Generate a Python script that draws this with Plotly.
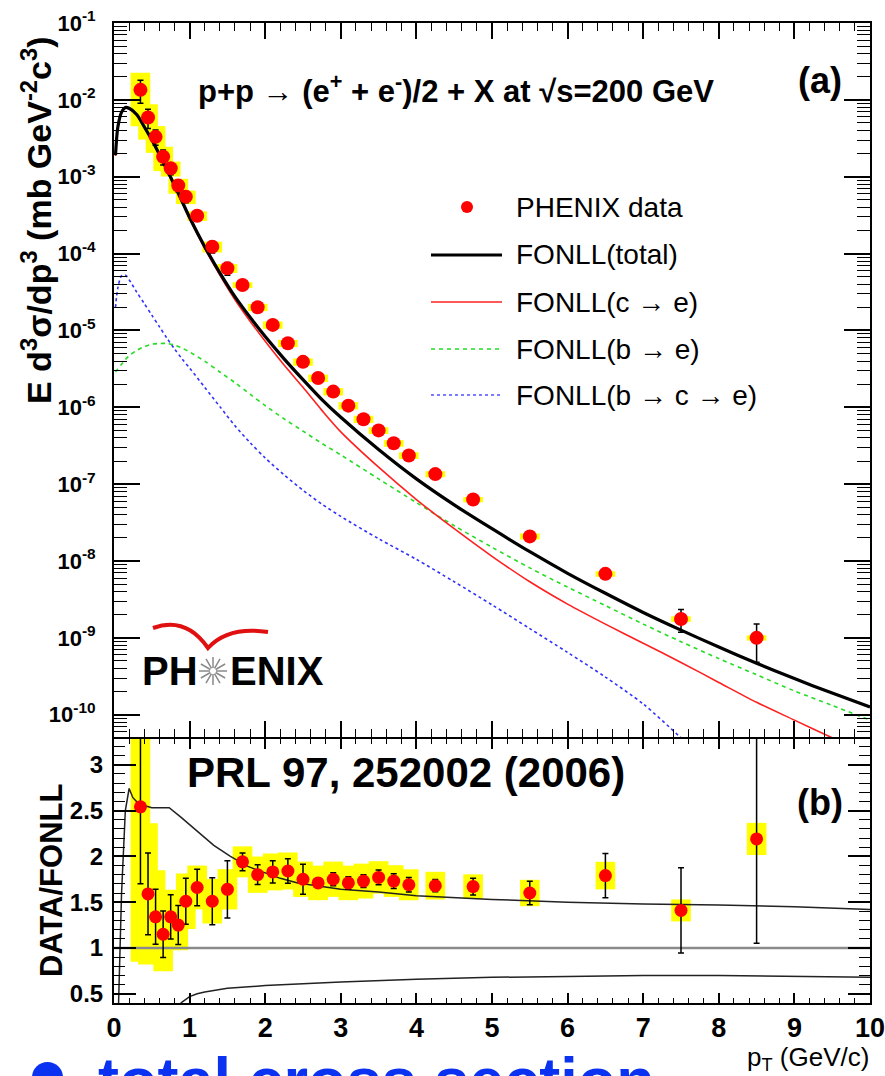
import math
import numpy as np
import plotly.graph_objects as go

# ---------------- data ----------------
pt = [0.35, 0.45, 0.55, 0.65, 0.75, 0.85, 0.95, 1.1, 1.3, 1.5, 1.7, 1.9, 2.1, 2.3,
      2.5, 2.7, 2.9, 3.1, 3.3, 3.5, 3.7, 3.9, 4.25, 4.75, 5.5, 6.5, 7.5, 8.5]
cross = [1.35e-2, 5.9e-3, 3.3e-3, 1.82e-3, 1.29e-3, 7.7e-4, 5.5e-4, 3.1e-4, 1.23e-4, 6.45e-5,
         3.9e-5, 2.0e-5, 1.18e-5, 6.8e-6, 3.9e-6, 2.4e-6, 1.6e-6, 1.05e-6, 7.0e-7, 5.0e-7,
         3.4e-7, 2.36e-7, 1.35e-7, 6.3e-8, 2.09e-8, 6.8e-9, 1.76e-9, 1.0e-9]
ratio = [2.54, 1.59, 1.34, 1.15, 1.34, 1.25, 1.51, 1.66, 1.51, 1.64, 1.94, 1.80, 1.83, 1.84,
         1.75, 1.71, 1.75, 1.71, 1.73, 1.77, 1.73, 1.69, 1.68, 1.67, 1.60, 1.79, 1.41, 2.19]
stat_rel = [0.33, 0.28, 0.224, 0.22, 0.18, 0.17, 0.167, 0.12, 0.17, 0.19, 0.05, 0.06, 0.066, 0.073,
            0.094, 0.03, 0.04, 0.04, 0.04, 0.045, 0.046, 0.047, 0.04, 0.055, 0.08, 0.135, 0.33, 0.52]
sys_rel = [0.665, 0.485, 0.38, 0.35, 0.22, 0.22, 0.2, 0.144, 0.16, 0.134, 0.087, 0.11, 0.11, 0.11,
           0.11, 0.11, 0.11, 0.11, 0.11, 0.1, 0.1, 0.1, 0.09, 0.08, 0.09, 0.084, 0.085, 0.08]

pt_fonll = [0.02, 0.05, 0.1, 0.15, 0.2, 0.3, 0.4, 0.5, 0.6, 0.7, 0.8, 0.9, 1.0, 1.2, 1.4, 1.6,
            1.8, 2.0, 2.25, 2.5, 2.75, 3.0, 3.5, 4.0, 4.5, 5.0, 5.5, 6.0, 6.5, 7.0, 7.5, 8.0,
            8.5, 9.0, 9.5, 10.0]
fonll_total = [1.91e-3, 4.37e-3, 6.92e-3, 7.94e-3, 7.76e-3, 6.46e-3, 4.47e-3, 3.02e-3, 1.95e-3,
               1.23e-3, 7.76e-4, 4.79e-4, 2.95e-4, 1.23e-4, 5.62e-5, 2.75e-5, 1.48e-5, 8.32e-6,
               4.27e-6, 2.29e-6, 1.26e-6, 7.41e-7, 2.82e-7, 1.17e-7, 5.37e-8, 2.63e-8, 1.32e-8,
               6.92e-9, 3.80e-9, 2.14e-9, 1.26e-9, 7.59e-10, 4.68e-10, 2.95e-10, 1.91e-10, 1.26e-10]
fonll_c = [1.86e-3, 4.27e-3, 6.76e-3, 7.76e-3, 7.59e-3, 6.31e-3, 4.37e-3, 2.95e-3, 1.91e-3,
           1.20e-3, 7.59e-4, 4.68e-4, 2.82e-4, 1.17e-4, 5.25e-5, 2.51e-5, 1.32e-5, 7.24e-6,
           3.55e-6, 1.82e-6, 9.12e-7, 4.79e-7, 1.66e-7, 6.31e-8, 2.63e-8, 1.15e-8, 5.37e-9,
           2.75e-9, 1.51e-9, 8.51e-10, 4.79e-10, 2.63e-10, 1.45e-10, 8.51e-11, 5.01e-11, 3.02e-11]
fonll_b = [2.88e-6, 3.16e-6, 3.63e-6, 4.17e-6, 4.68e-6, 5.50e-6, 6.17e-6, 6.61e-6, 6.76e-6,
           6.76e-6, 6.46e-6, 5.89e-6, 5.25e-6, 3.98e-6, 2.88e-6, 2.09e-6, 1.48e-6, 1.05e-6,
           7.08e-7, 4.90e-7, 3.39e-7, 2.40e-7, 1.17e-7, 5.75e-8, 2.88e-8, 1.51e-8, 8.13e-9,
           4.57e-9, 2.63e-9, 1.51e-9, 8.91e-10, 5.37e-10, 3.31e-10, 2.04e-10, 1.32e-10, 8.51e-11]
pt_bce = [0.02, 0.05, 0.1, 0.15, 0.2, 0.3, 0.4, 0.5, 0.6, 0.7, 0.8, 0.9, 1.0, 1.2, 1.4, 1.6,
          1.8, 2.0, 2.25, 2.5, 2.75, 3.0, 3.5, 4.0, 4.5, 5.0, 5.5, 6.0, 6.5, 7.0, 7.5, 8.0]
fonll_bce = [2.00e-5, 3.55e-5, 5.13e-5, 5.25e-5, 4.57e-5, 3.16e-5, 2.24e-5, 1.58e-5, 1.12e-5,
             7.94e-6, 5.75e-6, 4.27e-6, 3.24e-6, 1.82e-6, 1.02e-6, 5.75e-7, 3.47e-7, 2.19e-7,
             1.32e-7, 8.32e-8, 5.50e-8, 3.80e-8, 1.95e-8, 1.05e-8, 5.37e-9, 2.69e-9, 1.32e-9,
             6.46e-10, 3.09e-10, 1.38e-10, 5.01e-11, 1.78e-11]

pt_band_up = [0.06, 0.1, 0.15, 0.2, 0.25, 0.33, 0.5, 0.73, 0.88, 1.1, 1.32, 1.54, 1.77, 2.0,
              2.2, 2.43, 3.0, 3.5, 4.0, 5.0, 6.0, 7.0, 8.0, 9.0, 10.0]
band_up = [0.38, 1.6, 2.5, 2.74, 2.64, 2.57, 2.53, 2.53, 2.43, 2.27, 2.12, 2.0, 1.89, 1.82,
           1.76, 1.71, 1.64, 1.61, 1.57, 1.53, 1.50, 1.48, 1.47, 1.45, 1.42]
pt_band_lo = [0.85, 0.9, 1.0, 1.1, 1.2, 1.5, 2.0, 2.5, 3.0, 4.0, 5.0, 6.0, 7.0, 8.0, 9.0, 10.0]
band_lo = [0.37, 0.41, 0.47, 0.50, 0.52, 0.56, 0.59, 0.61, 0.63, 0.66, 0.68, 0.69, 0.70, 0.70,
           0.69, 0.68]
unity_x = [0, 10]
unity_y = [1, 1]

y_tick_vals = [1e-10, 1e-9, 1e-8, 1e-7, 1e-6, 1e-5, 1e-4, 1e-3, 1e-2, 1e-1]
y_tick_text = ["<b>10<sup>-10</sup></b>", "<b>10<sup>-9</sup></b>", "<b>10<sup>-8</sup></b>",
               "<b>10<sup>-7</sup></b>", "<b>10<sup>-6</sup></b>", "<b>10<sup>-5</sup></b>",
               "<b>10<sup>-4</sup></b>", "<b>10<sup>-3</sup></b>", "<b>10<sup>-2</sup></b>",
               "<b>10<sup>-1</sup></b>"]
r_tick_vals = [0.5, 1, 1.5, 2, 2.5, 3]
r_tick_text = ["<b>0.5</b>", "<b>1</b>", "<b>1.5</b>", "<b>2</b>", "<b>2.5</b>", "<b>3</b>"]
x_tick_vals = list(range(0, 11))
x_tick_text = ["<b>%d</b>" % v for v in x_tick_vals]

legend_labels = ["PHENIX data", "FONLL(total)", "FONLL(c \u2192 e)", "FONLL(b \u2192 e)",
                 "FONLL(b \u2192 c \u2192 e)"]

# ---------------- layout geometry ----------------
W, H = 885, 1076
ML, MR, MT, MB = 114, 15, 23, 73
PW = W - ML - MR
PH = H - MT - MB


def px(x):
    return (x - ML) / PW


def py(y):
    return (H - MB - y) / PH


FONT = "Liberation Sans, Arial, Helvetica, sans-serif"
RED = "#ff0000"
YEL = "#ffff00"

pt_a = np.array(pt)
cross_a = np.array(cross)
ratio_a = np.array(ratio)
stat_a = np.array(stat_rel)
sys_a = np.array(sys_rel)

fig = go.Figure()

# ---- top panel ----
top_lo = cross_a * (1 - sys_a)
top_hi = cross_a * (1 + sys_a)
fig.add_trace(go.Bar(x=pt, y=top_hi - top_lo, base=top_lo, width=0.26,
                     marker=dict(color=YEL, line=dict(width=0)),
                     xaxis="x", yaxis="y", showlegend=False, hoverinfo="skip"))
fig.add_trace(go.Scatter(x=pt_bce, y=fonll_bce, mode="lines", xaxis="x", yaxis="y",
                         line=dict(color="#3030ff", width=1.6, dash="dot", shape="spline", smoothing=0.8),
                         showlegend=False))
fig.add_trace(go.Scatter(x=pt_fonll, y=fonll_b, mode="lines", xaxis="x", yaxis="y",
                         line=dict(color="#22dd22", width=1.6, dash="4px,4px", shape="spline", smoothing=0.8),
                         showlegend=False))
fig.add_trace(go.Scatter(x=pt_fonll, y=fonll_c, mode="lines", xaxis="x", yaxis="y",
                         line=dict(color="#ff2020", width=1.6, shape="spline", smoothing=0.8),
                         showlegend=False))
fig.add_trace(go.Scatter(x=pt_fonll, y=fonll_total, mode="lines", xaxis="x", yaxis="y",
                         line=dict(color="black", width=3.2, shape="spline", smoothing=0.8),
                         showlegend=False))
fig.add_trace(go.Scatter(x=pt, y=cross, mode="markers", xaxis="x", yaxis="y",
                         marker=dict(color=RED, size=14, line=dict(width=0)),
                         error_y=dict(type="data", symmetric=False,
                                      array=list(cross_a * stat_a),
                                      arrayminus=list(cross_a * stat_a),
                                      color="black", thickness=1.5, width=3),
                         showlegend=False))

# ---- bottom panel ----
fig.add_trace(go.Scatter(x=unity_x, y=unity_y, mode="lines", xaxis="x2", yaxis="y2",
                         line=dict(color="#8a8a8a", width=2.5), showlegend=False))
r_lo = ratio_a * (1 - sys_a)
r_hi = ratio_a * (1 + sys_a)
fig.add_trace(go.Bar(x=pt, y=r_hi - r_lo, base=r_lo, width=0.26,
                     marker=dict(color=YEL, line=dict(width=0)),
                     xaxis="x2", yaxis="y2", showlegend=False, hoverinfo="skip"))
fig.add_trace(go.Scatter(x=pt_band_up, y=band_up, mode="lines", xaxis="x2", yaxis="y2",
                         line=dict(color="#222222", width=1.5), showlegend=False))
fig.add_trace(go.Scatter(x=pt_band_lo, y=band_lo, mode="lines", xaxis="x2", yaxis="y2",
                         line=dict(color="#222222", width=1.5), showlegend=False))
fig.add_trace(go.Scatter(x=pt, y=ratio, mode="markers", xaxis="x2", yaxis="y2",
                         marker=dict(color=RED, size=13, line=dict(width=0)),
                         error_y=dict(type="data", symmetric=False,
                                      array=list(ratio_a * stat_a),
                                      arrayminus=list(ratio_a * stat_a),
                                      color="black", thickness=1.5, width=3),
                         showlegend=False))

axis_common = dict(showgrid=False, zeroline=False, showline=True, linecolor="black",
                   linewidth=2, mirror="allticks", ticks="inside", tickcolor="black",
                   tickwidth=1.5, automargin=False)

minor_log_vals = [k * 10.0 ** e for e in range(-11, 0) for k in range(2, 10)]

fig.update_layout(
    width=W, height=H, margin=dict(l=ML, r=MR, t=MT, b=MB, autoexpand=False),
    paper_bgcolor="white", plot_bgcolor="white", showlegend=False,
    barmode="overlay",
    font=dict(family=FONT, color="black"),
    xaxis=dict(axis_common, domain=[0, 1], anchor="y", range=[0, 10], showticklabels=False,
               tickvals=x_tick_vals, ticklen=16,
               minor=dict(ticks="inside", dtick=0.2, tick0=0, ticklen=8, tickwidth=1.2,
                          tickcolor="black", showgrid=False)),
    yaxis=dict(axis_common, domain=[py(737), 1], anchor="x", type="log",
               range=[-10.29, -1.0], tickmode="array", tickvals=y_tick_vals,
               ticktext=y_tick_text, ticklen=26, tickfont=dict(size=22, family=FONT),
               ticklabelstandoff=12,
               minor=dict(ticks="inside", tickmode="array", tickvals=minor_log_vals,
                          ticklen=13, tickwidth=1.2, tickcolor="black", showgrid=False)),
    xaxis2=dict(axis_common, domain=[0, 1], anchor="y2", range=[0, 10], tickmode="array",
                tickvals=x_tick_vals, ticktext=x_tick_text, ticklen=10,
                tickfont=dict(size=27, family=FONT), ticklabelstandoff=0,
                ticklabeloverflow="allow",
                minor=dict(ticks="inside", dtick=0.2, tick0=0, ticklen=5, tickwidth=1.2,
                           tickcolor="black", showgrid=False)),
    yaxis2=dict(axis_common, domain=[0, py(739)], anchor="x2", range=[0.40, 3.28],
                tickmode="array", tickvals=r_tick_vals, ticktext=r_tick_text, ticklen=22,
                tickfont=dict(size=24, family=FONT), ticklabelstandoff=4,
                minor=dict(ticks="inside", dtick=0.1, tick0=0, ticklen=11, tickwidth=1.2,
                           tickcolor="black", showgrid=False)),
)

ann = []
shapes = []

ann.append(dict(xref="paper", yref="paper", x=px(196), y=py(89), xanchor="left", yanchor="middle",
                showarrow=False, font=dict(size=31, family=FONT),
                text="<b>p+p \u2192 (e<sup>+</sup> + e<sup>-</sup>)/2 + X at \u221As=200 GeV</b>"))
ann.append(dict(xref="paper", yref="paper", x=px(820), y=py(80), xanchor="center", yanchor="middle",
                showarrow=False, font=dict(size=36, family=FONT), text="<b>(a)</b>"))
ann.append(dict(xref="paper", yref="paper", x=px(820), y=py(802), xanchor="center", yanchor="middle",
                showarrow=False, font=dict(size=36, family=FONT), text="<b>(b)</b>"))
ann.append(dict(xref="paper", yref="paper", x=px(185), y=py(772), xanchor="left", yanchor="middle",
                showarrow=False, font=dict(size=42, family=FONT), text="<b>PRL 97, 252002 (2006)</b>"))
ann.append(dict(xref="paper", yref="paper", x=px(37), y=py(220), xanchor="center", yanchor="middle",
                textangle=-90, showarrow=False, font=dict(size=34, family=FONT),
                text="<b>E d<sup>3</sup>\u03c3/dp<sup>3</sup> (mb GeV<sup>-2</sup>c<sup>3</sup>)</b>"))
ann.append(dict(xref="paper", yref="paper", x=px(51), y=py(881), xanchor="center", yanchor="middle",
                textangle=-90, showarrow=False, font=dict(size=31, family=FONT),
                text="<b>DATA/FONLL</b>"))
ann.append(dict(xref="paper", yref="paper", x=px(871), y=py(1058), xanchor="right", yanchor="middle",
                showarrow=False, font=dict(size=26, family=FONT), text="p<sub>T</sub> (GeV/c)"))

# legend (drawn by hand)
leg_rows = [207, 255, 302, 349, 395]
for lab, yy in zip(legend_labels, leg_rows):
    ann.append(dict(xref="paper", yref="paper", x=px(514), y=py(yy), xanchor="left",
                    yanchor="middle", showarrow=False, font=dict(size=28, family=FONT), text=lab))
shapes.append(dict(type="circle", xref="paper", yref="paper", x0=px(461), x1=px(473),
                   y0=py(213), y1=py(201), fillcolor=RED, line=dict(width=0)))
leg_styles = [("black", 3.2, "solid"), ("#ff2020", 1.6, "solid"), ("#22dd22", 1.6, "4px,4px"),
              ("#5050ff", 1.6, "dot")]
for (col, wd, ds), yy in zip(leg_styles, leg_rows[1:]):
    shapes.append(dict(type="line", xref="paper", yref="paper", x0=px(431), x1=px(502),
                       y0=py(yy), y1=py(yy), line=dict(color=col, width=wd, dash=ds)))

# PHENIX logo
ann.append(dict(xref="paper", yref="paper", x=px(140), y=py(671), xanchor="left", yanchor="middle",
                showarrow=False, font=dict(size=40, family=FONT), text="<b>PH</b>"))
ann.append(dict(xref="paper", yref="paper", x=px(228), y=py(671), xanchor="left", yanchor="middle",
                showarrow=False, font=dict(size=40, family=FONT), text="<b>ENIX</b>"))
cx, cy = 213, 671
star = ""
for k in range(12):
    a = k * math.pi / 6
    x0, y0 = cx + 3 * math.cos(a), cy + 3 * math.sin(a)
    x1, y1 = cx + 14 * math.cos(a), cy + 14 * math.sin(a)
    star += "M %.5f %.5f L %.5f %.5f " % (px(x0), py(y0), px(x1), py(y1))
shapes.append(dict(type="path", xref="paper", yref="paper", path=star,
                   line=dict(color="#8a8a8a", width=1.5)))
swoosh = "M %.5f %.5f Q %.5f %.5f %.5f %.5f Q %.5f %.5f %.5f %.5f" % (
    px(153), py(628), px(186), py(616), px(208), py(648), px(228), py(626), px(268), py(632))
shapes.append(dict(type="path", xref="paper", yref="paper", path=swoosh,
                   line=dict(color="#e01010", width=4)))

# slide text cut at the bottom
shapes.append(dict(type="circle", xref="paper", yref="paper", x0=px(32), x1=px(63),
                   y0=py(1093), y1=py(1062), fillcolor="#0a32f0", line=dict(width=0)))
ann.append(dict(xref="paper", yref="paper", x=px(96), y=py(1043), xanchor="left", yanchor="top",
                showarrow=False, font=dict(size=63, family=FONT, color="#0a32f0"),
                text="<b>total cross section</b>"))

fig.update_layout(annotations=ann, shapes=shapes)

fig.write_html("out.html")
